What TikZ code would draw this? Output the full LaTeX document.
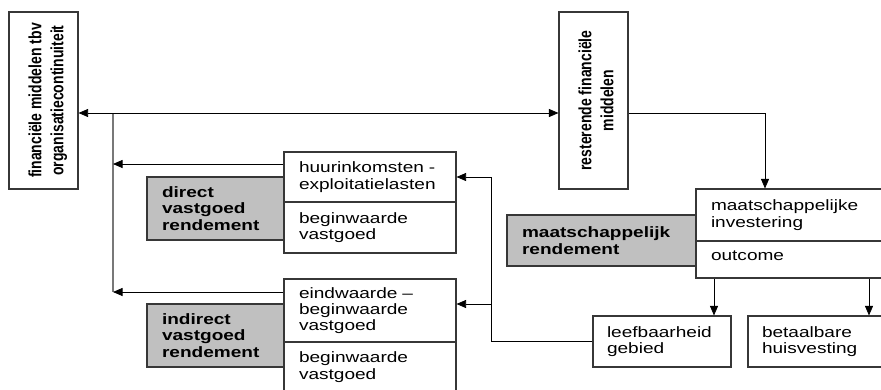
\documentclass[tikz,border=0pt]{standalone}
\usepackage{fontspec}
\setmainfont{Liberation Sans}[FakeStretch=1.27]
\newfontfamily\uprightsans{Liberation Sans}
\usetikzlibrary{arrows.meta}

\definecolor{boxline}{RGB}{55,55,55}
\definecolor{boxgrey}{RGB}{192,192,192}
\definecolor{trunkgrey}{RGB}{120,120,120}

% two-line label set vertically, widened across the column, nudged right
\newcommand{\sidetext}[2]{\hspace*{9pt}\scalebox{1.27}[1]{\rotatebox{90}{\uprightsans\bfseries\fontsize{14}{17.3}\selectfont\begin{tabular}{@{}c@{}}#1\\#2\end{tabular}}}}

\tikzset{
  box/.style={draw=boxline, line width=1.1pt, rectangle, inner xsep=15pt, inner ysep=0pt,
    align=left, font=\fontsize{15}{16.3}\selectfont},
  greybox/.style={box, fill=boxgrey, font=\bfseries\fontsize{15}{16.3}\selectfont},
  sidebox/.style={draw=boxline, line width=1.1pt, rectangle, inner sep=0pt},
  link/.style={line width=0.8pt, -{Triangle[length=9.5pt,width=8pt]}},
  trunk/.style={draw=trunkgrey, line width=1.6pt},
}

\begin{document}
\begin{tikzpicture}[x=1pt,y=-1pt]
\useasboundingbox (0,0) rectangle (881,389);
\clip (0,0) rectangle (881,389);

% vertical boxes
\node[sidebox, minimum width=69pt, minimum height=177pt] (fin) at (43.5,100.5)
  {\sidetext{financiële middelen tbv}{organisatiecontinuiteit}};
\node[sidebox, minimum width=69pt, minimum height=177pt] (rest) at (593.5,100.5)
  {\sidetext{resterende financiële}{middelen}};

% grey labels
\node[greybox, minimum width=137pt, minimum height=63pt, text width=107pt] (direct) at (215.5,208.5)
  {direct\\vastgoed\\rendement};
\node[greybox, minimum width=137pt, minimum height=63pt, text width=107pt] (indirect) at (215.5,335.5)
  {indirect\\vastgoed\\rendement};
\node[greybox, minimum width=189pt, minimum height=51pt, text width=159pt] (maatrend) at (601.5,240.5)
  {maatschappelijk\\rendement};

% split boxes
\node[box, minimum width=172pt, minimum height=50pt, text width=142pt] (huur) at (370,177)
  {huurinkomsten -\\exploitatielasten};
\node[box, minimum width=172pt, minimum height=51pt, text width=142pt] (begin1) at (370,227.5)
  {beginwaarde\\vastgoed};
\node[box, minimum width=172pt, minimum height=63pt, text width=142pt] (eind) at (370,310.5)
  {eindwaarde –\\beginwaarde\\vastgoed};
\node[box, minimum width=172pt, minimum height=50pt, text width=142pt] (begin2) at (370,367)
  {beginwaarde\\vastgoed};
\node[box, minimum width=204pt, minimum height=52pt, text width=174pt] (invest) at (798,215)
  {maatschappelijke\\investering};
\node[box, minimum width=204pt, minimum height=37pt, text width=174pt, text depth=8pt] (outcome) at (798,259.5)
  {outcome};

% outcome boxes
\node[box, minimum width=138pt, minimum height=51pt, text width=110pt, inner xsep=14pt] (leef) at (662,341.5)
  {leefbaarheid\\gebied};
\node[box, minimum width=138pt, minimum height=51pt, text width=110pt, inner xsep=14pt] (betaal) at (817,341.5)
  {betaalbare\\huisvesting};

% routing points
\coordinate (hl) at (0,113);
\coordinate (trunktop) at (113,113);
\coordinate (trunkbot) at (113,292);
\coordinate (ydirect) at (0,164);
\coordinate (yeind) at (0,304);
\coordinate (busx) at (491,0);
\coordinate (drop) at (765,0);
\coordinate (tap1) at (714,0);
\coordinate (tap2) at (869,0);

% connectors
\draw[trunk] (trunktop) -- (trunkbot);
\draw[link, {Triangle[length=9.5pt,width=8pt]}-{Triangle[length=9.5pt,width=8pt]}]
  (fin.east |- hl) -- (rest.west |- hl);
\draw[link] (huur.west |- ydirect) -- (trunktop |- ydirect);
\draw[link] (eind.west |- trunkbot) -- (trunkbot);
\draw[link] (rest.east |- hl) -| (drop |- invest.north);
\draw[link] (leef.west) -- (leef.west -| busx) |- (huur.east);
\draw[link] (busx |- yeind) -- (eind.east |- yeind);
\draw[link] (tap1 |- outcome.south) -- (tap1 |- leef.north);
\draw[link] (tap2 |- outcome.south) -- (tap2 |- betaal.north);
\end{tikzpicture}
\end{document}
